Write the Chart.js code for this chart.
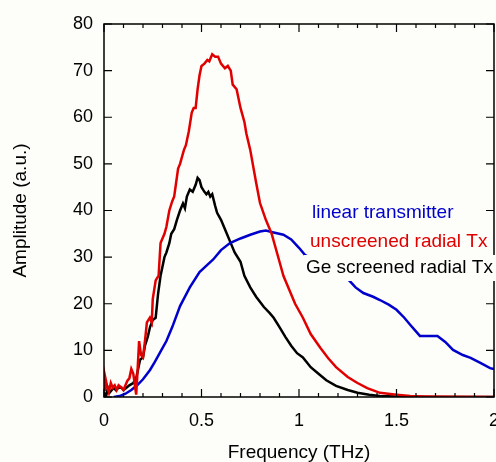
<!DOCTYPE html>
<html>
<head>
<meta charset="utf-8">
<script src="https://cdn.jsdelivr.net/npm/chart.js@4.4.1/dist/chart.umd.min.js"></script>
<style>
    html, body { margin: 0; padding: 0; background: #fdfdf9; }
    #wrap { width: 496px; height: 462px; position: relative; }
</style>
</head>
<body>
<div id="wrap"><canvas id="ampChart"></canvas></div>
<script>
const seriesNames = ['linear transmitter', 'unscreened radial Tx', 'Ge screened radial Tx'];
const seriesColors = ['#0000cc', '#e00000', '#000000'];

const xTickValues = [0, 0.5, 1, 1.5, 2];
const xTickLabels = ['0', '0.5', '1', '1.5', '2'];
const yTickLabels = ['0', '10', '20', '30', '40', '50', '60', '70', '80'];

// linear transmitter
const blueX = [0.05, 0.08, 0.11, 0.14, 0.17, 0.2, 0.236, 0.26, 0.287, 0.32, 0.35, 0.39, 0.44, 0.49, 0.56, 0.6, 0.646, 0.7, 0.75, 0.8, 0.83, 0.87, 0.92, 0.96, 1.0, 1.03, 1.1, 1.18, 1.246, 1.29, 1.33, 1.38, 1.415, 1.46, 1.5, 1.54, 1.57, 1.62, 1.71, 1.75, 1.79, 1.84, 1.88, 1.93, 1.98, 2.0];
const blueY = [0, 0.2, 0.7, 1.5, 2.5, 3.8, 5.8, 7.5, 9.5, 12, 15, 19.5, 23.5, 26.8, 29.5, 31.5, 33, 34, 34.8, 35.5, 35.7, 35.3, 34.8, 33.8, 32, 30.5, 28.8, 27, 25.5, 23.5, 22.3, 21.5, 20.8, 19.8, 18.7, 17, 15.5, 13.1, 13.1, 11.8, 10.1, 9, 8.4, 7.3, 6.2, 6];

// unscreened radial Tx
const redX = [0, 0.005, 0.015, 0.025, 0.035, 0.045, 0.055, 0.065, 0.075, 0.09, 0.1, 0.11, 0.12, 0.13, 0.14, 0.15, 0.16, 0.165, 0.17, 0.18, 0.19, 0.2, 0.21, 0.22, 0.235, 0.245, 0.25, 0.265, 0.28, 0.29, 0.31, 0.32, 0.335, 0.35, 0.36, 0.37, 0.38, 0.39, 0.41, 0.42, 0.435, 0.45, 0.46, 0.47, 0.48, 0.49, 0.5, 0.515, 0.53, 0.54, 0.555, 0.57, 0.585, 0.6, 0.62, 0.635, 0.65, 0.66, 0.68, 0.7, 0.72, 0.73, 0.75, 0.78, 0.8, 0.83, 0.86, 0.9, 0.92, 0.95, 0.98, 1.02, 1.06, 1.11, 1.15, 1.19, 1.25, 1.3, 1.35, 1.415, 1.5, 1.57, 1.65, 1.8, 2.0];
const redY = [1.5, 4.5, 2.5, 1, 3, 2, 2.5, 1.5, 2.5, 2, 1.5, 2.5, 3.5, 4, 6, 5, 2, 0.5, 4, 12, 9, 8.5, 12, 16, 17, 16, 21, 25, 26, 33, 35, 36.5, 40, 42, 43, 46, 49, 50, 53, 54, 57, 61, 62, 62, 66, 69, 71, 71.5, 72.3, 72, 73.5, 73, 73, 71.5, 70.5, 71, 70, 67, 66, 62, 59, 56.5, 53, 46, 41.6, 38, 35, 29, 26, 23, 20, 17, 13.5, 10.5, 8.3, 6.4, 4.3, 3, 1.9, 0.9, 0.5, 0.2, 0.1, 0.05, 0];

// Ge screened radial Tx
const blackX = [0, 0.01, 0.02, 0.03, 0.04, 0.05, 0.06, 0.075, 0.09, 0.1, 0.115, 0.13, 0.15, 0.165, 0.175, 0.185, 0.2, 0.21, 0.225, 0.236, 0.25, 0.265, 0.277, 0.29, 0.3, 0.31, 0.32, 0.335, 0.345, 0.36, 0.374, 0.39, 0.405, 0.415, 0.425, 0.44, 0.455, 0.47, 0.48, 0.49, 0.5, 0.515, 0.525, 0.535, 0.545, 0.555, 0.57, 0.58, 0.6, 0.63, 0.65, 0.67, 0.7, 0.72, 0.75, 0.78, 0.82, 0.85, 0.87, 0.9, 0.93, 0.96, 0.99, 1.02, 1.06, 1.1, 1.14, 1.19, 1.25, 1.3, 1.36, 1.415, 1.5, 1.6, 2.0];
const blackY = [1, 0, 2, 1, 1.5, 2, 1.5, 2, 2, 1.5, 2, 2.5, 3, 4, 6, 8, 8.5, 11, 13, 15, 16.5, 17, 22, 26, 28, 30, 31, 33, 35, 36, 38, 40, 41.5, 40.5, 43, 44.5, 44, 45.5, 47, 46.5, 45, 44, 43.5, 44, 43, 43.5, 41, 39.5, 38, 35, 33, 31, 29, 26, 23.5, 21.5, 19.3, 18, 17, 15, 12.9, 11, 9.4, 8.5, 6.4, 5, 3.6, 2.4, 1.5, 0.9, 0.5, 0.2, 0.1, 0, 0];

const FONT = '"Liberation Sans", Arial, sans-serif';

function toPoints(xs, ys) {
    return xs.map((x, i) => ({ x: x, y: ys[i] }));
}

// box frame with inward ticks on all four sides
const framePlugin = {
    id: 'frame',
    afterDatasetsDraw(chart) {
        const { ctx, chartArea: a, scales } = chart;
        const xs = scales.x, ys = scales.y;
        ctx.save();
        ctx.strokeStyle = '#000';
        ctx.lineWidth = 1.5;
        ctx.strokeRect(a.left, a.top, a.right - a.left, a.bottom - a.top);
        ctx.lineWidth = 1.2;
        ctx.beginPath();
        for (let i = 0; i <= 20; i++) {
            const px = xs.getPixelForValue(i / 10);
            const len = i % 5 === 0 ? 8 : 4;
            ctx.moveTo(px, a.bottom); ctx.lineTo(px, a.bottom - len);
            ctx.moveTo(px, a.top); ctx.lineTo(px, a.top + len);
        }
        for (let v = 0; v <= 80; v += 10) {
            const py = ys.getPixelForValue(v);
            ctx.moveTo(a.left, py); ctx.lineTo(a.left + 8, py);
            ctx.moveTo(a.right, py); ctx.lineTo(a.right - 8, py);
        }
        ctx.stroke();
        ctx.restore();
    }
};

// text legend with a background that masks the curves behind it
const textLegendPlugin = {
    id: 'textLegend',
    afterDraw(chart) {
        const { ctx } = chart;
        const rows = [213, 242, 268];
        const lefts = [312, 310, 306];
        ctx.save();
        ctx.font = '19px ' + FONT;
        ctx.textBaseline = 'middle';
        seriesNames.forEach((name, i) => {
            const w = ctx.measureText(name).width;
            ctx.fillStyle = '#fdfdf9';
            ctx.fillRect(lefts[i] - 2, rows[i] - 13, w + 6, 26);
        });
        seriesNames.forEach((name, i) => {
            ctx.fillStyle = seriesColors[i];
            ctx.fillText(name, lefts[i], rows[i]);
        });
        ctx.restore();
    }
};

const ds = (data, color) => ({
    data: data,
    borderColor: color,
    borderWidth: 2.5,
    pointRadius: 0,
    tension: 0,
    fill: false
});

new Chart(document.getElementById('ampChart'), {
    type: 'line',
    data: {
        datasets: [
            ds(toPoints(redX, redY), seriesColors[1]),
            ds(toPoints(blueX, blueY), seriesColors[0]),
            ds(toPoints(blackX, blackY), seriesColors[2])
        ]
    },
    options: {
        responsive: true,
        maintainAspectRatio: false,
        animation: false,
        layout: { padding: { top: 24, right: 2, left: 0, bottom: 0 } },
        plugins: {
            legend: { display: false },
            tooltip: { enabled: false }
        },
        scales: {
            x: {
                type: 'linear',
                min: 0,
                max: 2,
                border: { display: false },
                grid: { display: false, drawTicks: false },
                afterBuildTicks: (scale) => {
                    scale.ticks = xTickValues.map(v => ({ value: v }));
                },
                afterFit: (scale) => {
                    scale.height = 65;
                    scale.paddingLeft = 0;
                    scale.paddingRight = 0;
                },
                ticks: {
                    padding: 13,
                    color: '#000',
                    maxRotation: 0,
                    autoSkip: false,
                    font: { family: FONT, size: 18 },
                    callback: (val) => xTickLabels[xTickValues.indexOf(val)]
                },
                title: {
                    display: true,
                    text: 'Frequency (THz)',
                    color: '#000',
                    padding: { top: 0, bottom: -2 },
                    font: { family: FONT, size: 19 }
                }
            },
            y: {
                min: 0,
                max: 80,
                border: { display: false },
                grid: { display: false, drawTicks: false },
                afterFit: (scale) => {
                    scale.width = 104;
                    scale.paddingTop = 0;
                    scale.paddingBottom = 0;
                },
                ticks: {
                    stepSize: 10,
                    padding: 11,
                    color: '#000',
                    font: { family: FONT, size: 18 },
                    callback: (val) => yTickLabels[val / 10]
                },
                title: {
                    display: true,
                    text: 'Amplitude (a.u.)',
                    color: '#000',
                    padding: { top: 9, bottom: 0 },
                    font: { family: FONT, size: 19 }
                }
            }
        }
    },
    plugins: [framePlugin, textLegendPlugin]
});
</script>
</body>
</html>
